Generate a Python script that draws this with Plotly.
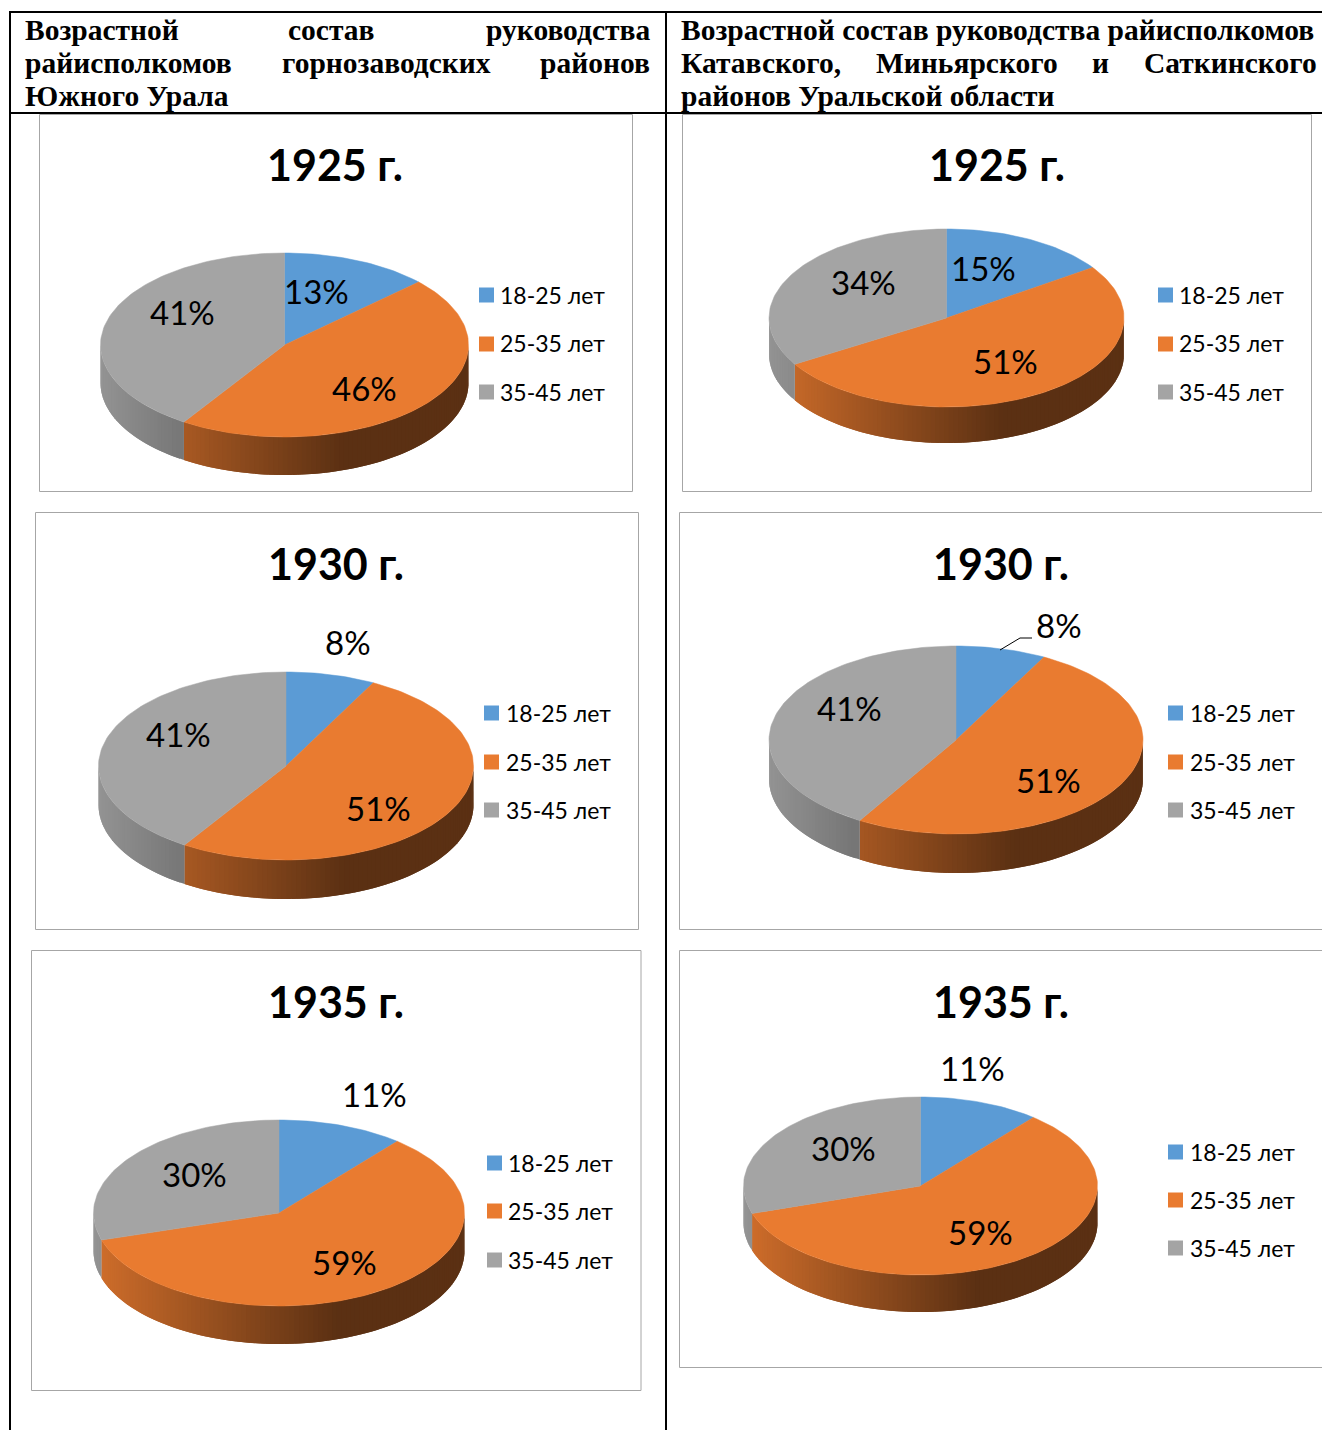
import math
import plotly.graph_objects as go

W, H = 1322, 1430

# ---- data ----
categories = ["18-25 лет", "25-35 лет", "35-45 лет"]
years = ["1925 г.", "1925 г.", "1930 г.", "1930 г.", "1935 г.", "1935 г."]
# shares read from the slice boundaries; the printed labels are these values rounded
share_18_25 = [13.0, 15.4, 7.7, 7.8, 11.0, 11.0]
share_25_35 = [46.2, 50.9, 51.4, 50.8, 59.3, 59.0]
share_35_45 = [40.8, 33.7, 40.9, 41.4, 29.7, 30.0]

# ---- styles and layout (pixels) ----
BASE = [(91, 155, 213), (233, 123, 48), (164, 164, 164)]
# frame L, T, R, B; centre cx, cy; radii rx, ry; depth; title x, y; legend square x, text x, row y's
CHARTS = [
    dict(f=(39, 114, 632, 491), c=(284.5, 345), r=(184, 92), d=38, t=(335, 165), lg=(479, 500, (295, 344, 392))),
    dict(f=(682, 114, 1311, 491), c=(946.5, 318), r=(177.5, 89), d=36, t=(997, 165), lg=(1158, 1179, (295, 344, 392))),
    dict(f=(35, 512, 638, 929), c=(286, 766), r=(187.5, 94), d=39, t=(336, 564), lg=(484, 506, (713, 762, 810))),
    dict(f=(679, 512, 1330, 929), c=(956, 740), r=(187, 94), d=39, t=(1001, 564), lg=(1168, 1190, (713, 762, 810))),
    dict(f=(31, 950, 640.5, 1390), c=(279, 1213), r=(185.5, 93), d=38, t=(336, 1002), lg=(487, 508, (1163, 1211, 1260))),
    dict(f=(679, 950, 1330, 1367), c=(920.5, 1186), r=(177, 89), d=37, t=(1001, 1002), lg=(1168, 1190, (1152, 1200, 1248))),
]
LABEL_POS = [
    [(316, 293), (364, 389), (182, 313)],
    [(983, 269), (1005, 363), (863, 283)],
    [(348, 643), (378, 809), (178, 735)],
    [(1059, 627), (1048, 781), (850, 709)],
    [(374, 1095), (344, 1263), (194, 1175)],
    [(972, 1069), (980, 1233), (843, 1149)],
]
HEADER = [
    ("Возрастной", 25, 30, "left"), ("состав", 331, 30, "center"), ("руководства", 650, 30, "right"),
    ("райисполкомов", 25, 63, "left"), ("горнозаводских", 387, 63, "center"), ("районов", 650, 63, "right"),
    ("Южного Урала", 25, 96.5, "left"),
    ("Возрастной состав руководства райисполкомов", 681, 30, "left"),
    ("Катавского,", 681, 63, "left"), ("Миньярского", 967, 63, "center"), ("и", 1100, 63, "center"),
    ("Саткинского", 1317, 63, "right"),
    ("районов Уральской области", 681, 96.5, "left"),
]
TITLE_FONT = "Lato"
HEAD_SIZE, TITLE_SIZE, LABEL_SIZE, LEGEND_SIZE = 29.5, 43, 33, 23


def px(x):
    return x / W


def py(y):
    return 1 - y / H


def shade(rgb, x):
    f = max(0.39, 0.9 - (x + 1) * 0.38)
    return "rgb(%d,%d,%d)" % tuple(round(v * f) for v in rgb)


fig = go.Figure()
shapes, annotations, axes = [], [], {}


def note(text, x, y, size, anchor="center", family=TITLE_FONT, bold=False):
    annotations.append(dict(
        text=f"<b>{text}</b>" if bold else text, x=px(x), y=py(y), xref="paper", yref="paper",
        xanchor=anchor, yanchor="middle", showarrow=False, borderpad=0,
        xshift={"left": -1, "right": 1, "center": 0}[anchor],
        font=dict(family=family, size=size, color="black"),
    ))


for i, ch in enumerate(CHARTS):
    L, T, R, B = ch["f"]
    cx, cy = ch["c"]
    rx, ry = ch["r"]
    depth = ch["d"] / rx
    tilt = ry / rx
    suffix = "" if i == 0 else str(i + 1)
    xa, ya = "x" + suffix, "y" + suffix
    axes["xaxis" + suffix] = dict(domain=[px(L), min(1, px(R))], anchor=ya, visible=False, fixedrange=True,
                                  range=[(L - cx) / rx, (min(R, W) - cx) / rx])
    axes["yaxis" + suffix] = dict(domain=[py(B), py(T)], anchor=xa, visible=False, fixedrange=True,
                                  range=[(cy - B) / rx, (cy - T) / rx])

    values = [share_18_25[i], share_25_35[i], share_35_45[i]]
    total = sum(values)
    start = 0.0
    spans = []
    for v in values:
        spans.append((start, start + v / total * 360))
        start = spans[-1][1]

    def pt(deg, drop=0.0):
        a = math.radians(deg)
        return math.sin(a), math.cos(a) * tilt - drop

    # side wall: overlapping strips, each later strip covering the previous one's far edge
    for (a0, a1), rgb in zip(spans, BASE):
        lo, hi = max(a0, 90), min(a1, 270)
        if hi <= lo:
            continue
        n = max(1, math.ceil((hi - lo) / 1.5))
        step = (hi - lo) / n
        # draw from the slice's far end back towards its start, so no seams show
        for k in range(n - 1, -1, -1):
            t0 = lo + step * k
            sweep = [t0 + min(hi - t0, step * 2) * j / 4 for j in range(5)]
            top = [pt(t) for t in sweep]
            bottom = [pt(t, depth) for t in reversed(sweep)]
            poly = top + bottom + top[:1]
            col = shade(rgb, math.sin(math.radians(t0 + step / 2)))
            fig.add_trace(go.Scatter(
                x=[c[0] for c in poly], y=[c[1] for c in poly], xaxis=xa, yaxis=ya,
                mode="lines", fill="toself", fillcolor=col, line=dict(width=0),
                hoverinfo="skip", showlegend=False))

    # top face slices
    for (a0, a1), rgb, cat in zip(spans, BASE, categories):
        n = max(2, math.ceil((a1 - a0) / 1.5))
        arc = [pt(a0 + (a1 - a0) * k / n) for k in range(n + 1)]
        poly = [(0, 0)] + arc + [(0, 0)]
        col = "rgb(%d,%d,%d)" % rgb
        fig.add_trace(go.Scatter(
            x=[p[0] for p in poly], y=[p[1] for p in poly], xaxis=xa, yaxis=ya, name=cat,
            mode="lines", fill="toself", fillcolor=col, line=dict(color=col, width=0.5),
            hoverinfo="name", showlegend=False))

    # frame
    shapes.append(dict(type="rect", xref="paper", yref="paper", x0=px(L + .5), x1=px(R + .5), y0=py(B + .5), y1=py(T + .5),
                       line=dict(color="#a6a6a6", width=1), fillcolor="rgba(0,0,0,0)", layer="below"))
    # title
    note(years[i], ch["t"][0], ch["t"][1] - 0.5, TITLE_SIZE, bold=True)
    # data labels
    for v, (lx, ly) in zip(values, LABEL_POS[i]):
        note(f"{v:.0f}%", lx, ly - 1.5, LABEL_SIZE)
    # legend
    sx, tx, rows = ch["lg"]
    for cat, rgb, ry_ in zip(categories, BASE, rows):
        shapes.append(dict(type="rect", xref="paper", yref="paper", x0=px(sx), x1=px(sx + 15),
                           y0=py(ry_ + 7.5), y1=py(ry_ - 7.5), line=dict(width=0),
                           fillcolor="rgb(%d,%d,%d)" % rgb))
        note(cat, tx, ry_ - 0.5, LEGEND_SIZE, anchor="left")

# leader line of the 8% label, 1930 chart on the right
shapes.append(dict(type="path", xref="paper", yref="paper", line=dict(color="black", width=1),
                   path=f"M {px(1000)} {py(650)} L {px(1020)} {py(638)} L {px(1032)} {py(638)}"))

# table rules
for x0, y0, x1, y1 in [(10, 12, W, 12), (10, 113, W, 113), (10, 11, 10, H), (666, 11, 666, H)]:
    shapes.append(dict(type="line", xref="paper", yref="paper", x0=px(x0), x1=px(x1), y0=py(y0), y1=py(y1),
                       line=dict(color="black", width=2)))

for text, x, y, anchor in HEADER:
    note(text, x, y, HEAD_SIZE, anchor=anchor, family="Liberation Serif", bold=True)

fig.update_layout(width=W, height=H, margin=dict(l=0, r=0, t=0, b=0), paper_bgcolor="white",
                  plot_bgcolor="rgba(0,0,0,0)", shapes=shapes, annotations=annotations, showlegend=False, **axes)
fig.write_html("out.html", post_script="document.body.style.margin='0';",
               config=dict(displayModeBar=False))
